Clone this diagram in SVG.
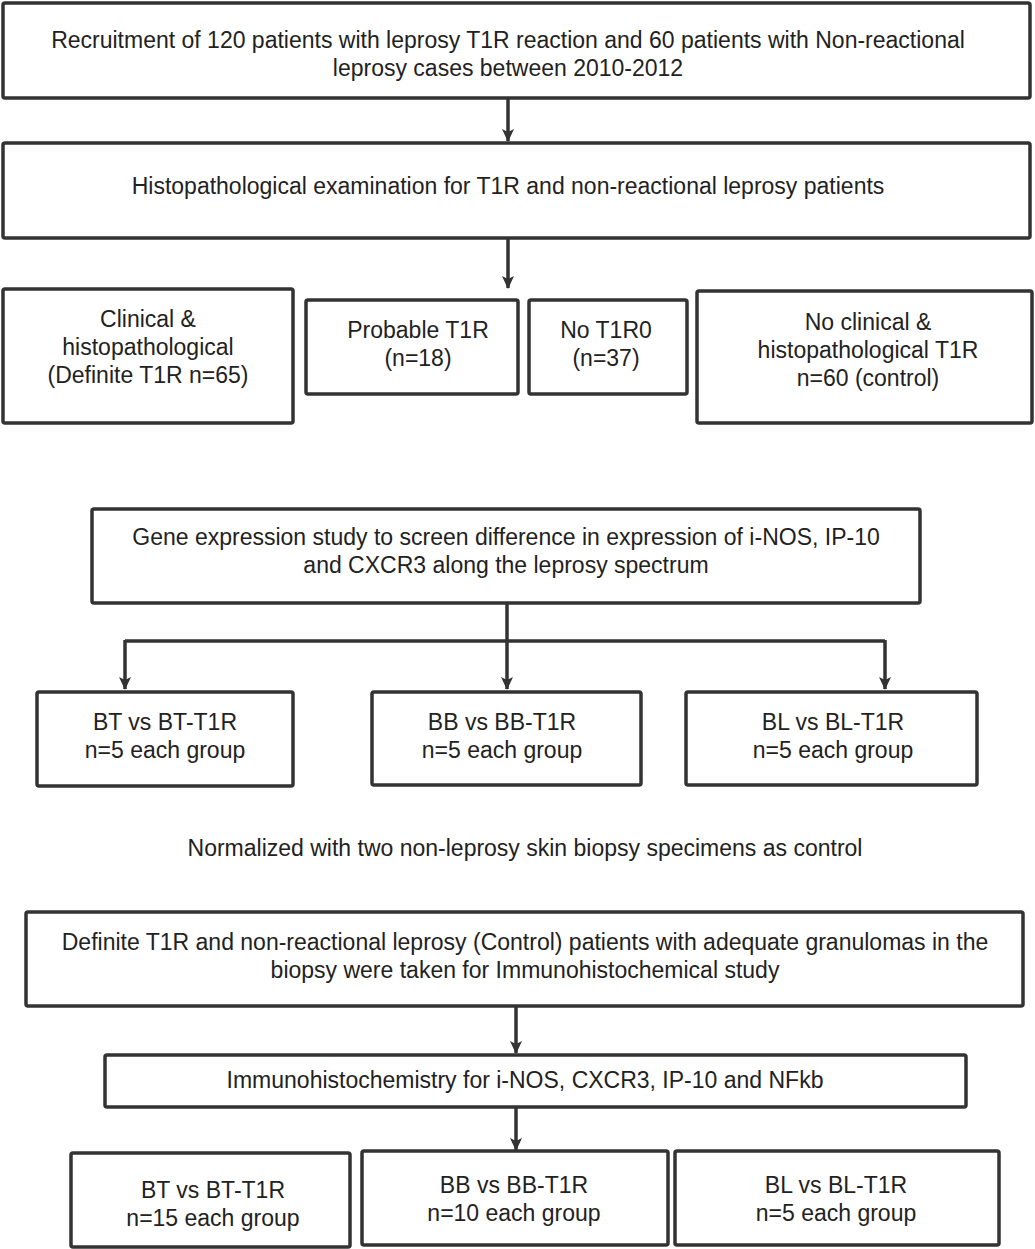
<svg xmlns="http://www.w3.org/2000/svg" width="1035" height="1249" viewBox="0 0 1035 1249">
<defs>
<style>
.box{fill:#fff;stroke:#333;stroke-width:3.5}
.t{font-family:"Liberation Sans",Arial,sans-serif;font-size:23px;fill:#222;text-anchor:middle}
.ln{fill:none;stroke:#333;stroke-width:3.5}
</style>
<marker id="arr" markerWidth="14" markerHeight="14" refX="12" refY="7" orient="auto" markerUnits="userSpaceOnUse">
<path d="M0,1 L13,7 L0,13 L3,7 Z" fill="#333"/>
</marker>
</defs>
<rect width="1035" height="1249" fill="#fff"/>
<g id="connectors">
<line class="ln" x1="508" y1="98" x2="508" y2="141" marker-end="url(#arr)"/>
<line class="ln" x1="508" y1="238" x2="508" y2="288" marker-end="url(#arr)"/>
<line class="ln" x1="507" y1="603" x2="507" y2="641"/>
<line class="ln" x1="125" y1="641" x2="885" y2="641"/>
<line class="ln" x1="125" y1="640" x2="125" y2="689" marker-end="url(#arr)"/>
<line class="ln" x1="507" y1="640" x2="507" y2="689" marker-end="url(#arr)"/>
<line class="ln" x1="885" y1="640" x2="885" y2="689" marker-end="url(#arr)"/>
<line class="ln" x1="516" y1="1006" x2="516" y2="1053" marker-end="url(#arr)"/>
<line class="ln" x1="516" y1="1107" x2="516" y2="1150" marker-end="url(#arr)"/>
</g>
<g id="n1"><rect class="box" x="3" y="3" width="1027" height="95" rx="2"/>
<text class="t" x="508" y="48">Recruitment of 120 patients with leprosy T1R reaction and 60 patients with Non-reactional</text>
<text class="t" x="508" y="76">leprosy cases between 2010-2012</text></g>
<g id="n2"><rect class="box" x="3" y="143" width="1027" height="95" rx="2"/>
<text class="t" x="508" y="194">Histopathological examination for T1R and non-reactional leprosy patients</text></g>
<g id="n3a"><rect class="box" x="3" y="289" width="290" height="134" rx="2"/>
<text class="t" x="148" y="327">Clinical &amp;</text>
<text class="t" x="148" y="355">histopathological</text>
<text class="t" x="148" y="383">(Definite T1R n=65)</text></g>
<g id="n3b"><rect class="box" x="306" y="300" width="212" height="94" rx="2"/>
<text class="t" x="418" y="338">Probable T1R</text>
<text class="t" x="418" y="366">(n=18)</text></g>
<g id="n3c"><rect class="box" x="529" y="300" width="158" height="94" rx="2"/>
<text class="t" x="606" y="338">No T1R0</text>
<text class="t" x="606" y="366">(n=37)</text></g>
<g id="n3d"><rect class="box" x="697" y="291" width="335" height="132" rx="2"/>
<text class="t" x="868" y="330">No clinical &amp;</text>
<text class="t" x="868" y="358">histopathological T1R</text>
<text class="t" x="868" y="386">n=60 (control)</text></g>
<g id="n4"><rect class="box" x="92" y="509" width="828" height="94" rx="2"/>
<text class="t" x="506" y="545">Gene expression study to screen difference in expression of i-NOS, IP-10</text>
<text class="t" x="506" y="573">and CXCR3 along the leprosy spectrum</text></g>
<g id="n5a"><rect class="box" x="37" y="692" width="256" height="94" rx="2"/>
<text class="t" x="165" y="730">BT vs BT-T1R</text>
<text class="t" x="165" y="758">n=5 each group</text></g>
<g id="n5b"><rect class="box" x="372" y="692" width="269" height="93" rx="2"/>
<text class="t" x="502" y="730">BB vs BB-T1R</text>
<text class="t" x="502" y="758">n=5 each group</text></g>
<g id="n5c"><rect class="box" x="686" y="692" width="291" height="93" rx="2"/>
<text class="t" x="833" y="730">BL vs BL-T1R</text>
<text class="t" x="833" y="758">n=5 each group</text></g>
<text class="t" x="525" y="856">Normalized with two non-leprosy skin biopsy specimens as control</text>
<g id="n6"><rect class="box" x="26" y="912" width="997" height="94" rx="2"/>
<text class="t" x="525" y="950">Definite T1R and non-reactional leprosy (Control) patients with adequate granulomas in the</text>
<text class="t" x="525" y="978">biopsy were taken for Immunohistochemical study</text></g>
<g id="n7"><rect class="box" x="105" y="1055" width="861" height="52" rx="2"/>
<text class="t" x="525" y="1088">Immunohistochemistry for i-NOS, CXCR3, IP-10 and NFkb</text></g>
<g id="n8a"><rect class="box" x="71" y="1153" width="279" height="94" rx="2"/>
<text class="t" x="213" y="1198">BT vs BT-T1R</text>
<text class="t" x="213" y="1226">n=15 each group</text></g>
<g id="n8b"><rect class="box" x="362" y="1151" width="306" height="94" rx="2"/>
<text class="t" x="514" y="1193">BB vs BB-T1R</text>
<text class="t" x="514" y="1221">n=10 each group</text></g>
<g id="n8c"><rect class="box" x="675" y="1151" width="324" height="94" rx="2"/>
<text class="t" x="836" y="1193">BL vs BL-T1R</text>
<text class="t" x="836" y="1221">n=5 each group</text></g>
</svg>
